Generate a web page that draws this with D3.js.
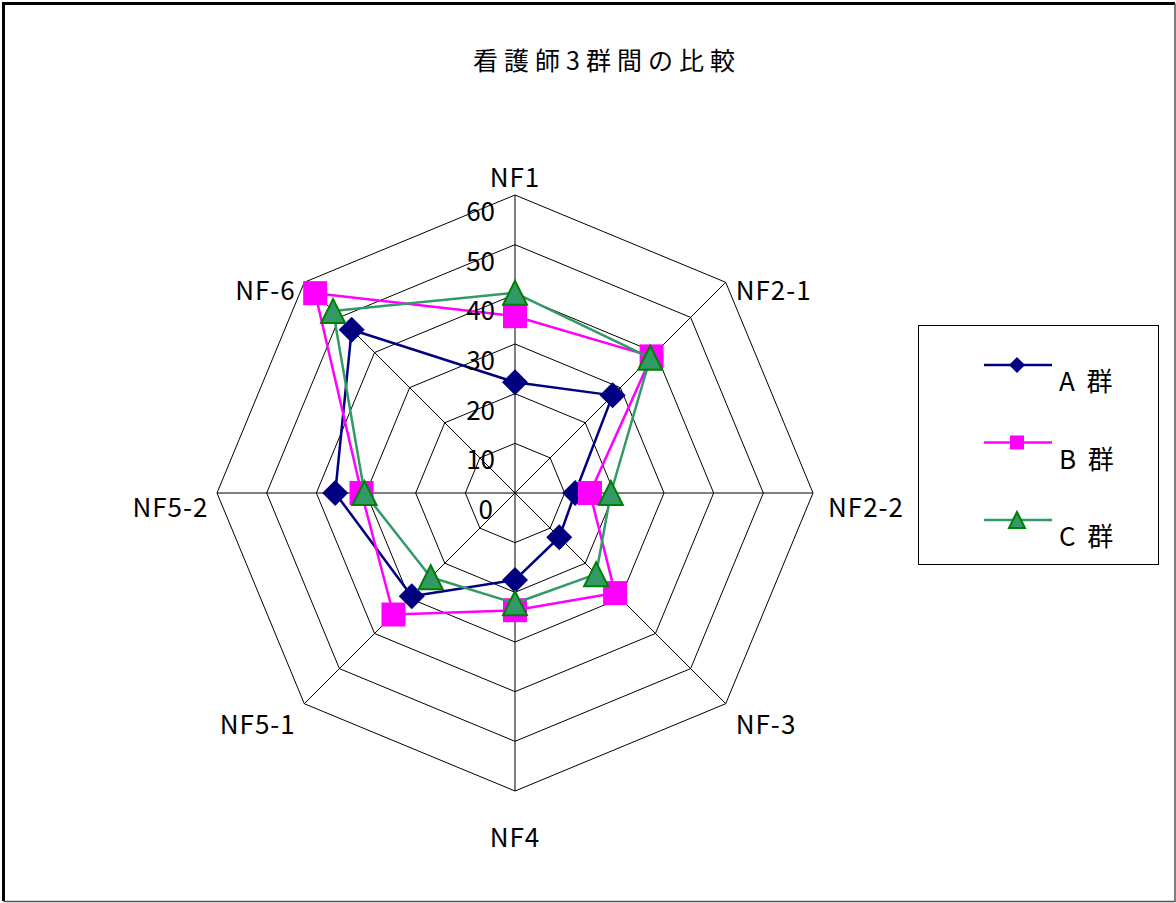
<!DOCTYPE html>
<html>
<head>
<meta charset="utf-8">
<script src="https://cdn.jsdelivr.net/npm/d3@7"></script>
<style>
  html, body { margin: 0; padding: 0; background: #fff; }
  svg { display: block; }
  text { font-family: "Noto Sans CJK JP", "Noto Sans", sans-serif; fill: #000; }
</style>
</head>
<body>
<svg id="chart" width="1176" height="903"></svg>
<script>
// Scores for the three nurse groups on each NF factor
const categories = ["NF1", "NF2-1", "NF2-2", "NF-3", "NF4", "NF5-1", "NF5-2", "NF-6"];
const groupA = [22.3, 27.8, 12.1, 12.6, 17.5, 29.4, 36.2, 46.5];
const groupB = [35.6, 38.9, 15.1, 28.5, 23.6, 34.6, 30.9, 56.9];
const groupC = [40.3, 38.5, 19.3, 23.1, 22.2, 24.0, 30.3, 51.8];
const seriesNames = ["A 群", "B 群", "C 群"];
const tickValues = [0, 10, 20, 30, 40, 50, 60];
const titleText = "看護師3群間の比較";

const svg = d3.select("#chart");
const W = 1176, H = 903;
const cx = 515, cy = 493, R = 298;

// outer frame
svg.append("rect").attr("x", 0).attr("y", 0).attr("width", W).attr("height", H).attr("fill", "#fff");
svg.append("path")
  .attr("d", `M3.5,901 L3.5,3.5 L1175,3.5`)
  .attr("fill", "none").attr("stroke", "#000").attr("stroke-width", 3);
svg.append("path")
  .attr("d", `M1175,3.5 L1175,901.5 L3.5,901.5`)
  .attr("fill", "none").attr("stroke", "#555").attr("stroke-width", 1.5);

// title
svg.append("text")
  .attr("x", 607).attr("y", 70)
  .attr("text-anchor", "middle")
  .attr("font-size", 25)
  .attr("letter-spacing", "6px")
  .text(titleText);

const n = categories.length;
const rScale = d3.scaleLinear().domain([0, 60]).range([0, R]);
const aScale = d3.scaleLinear().domain([0, n]).range([0, 2 * Math.PI]);

const g = svg.append("g").attr("transform", `translate(${cx},${cy})`);

const pointAt = (i, v) => {
  const a = aScale(i), r = rScale(v);
  return [r * Math.sin(a), -r * Math.cos(a)];
};

// grid rings
const ring = d3.lineRadial()
  .angle((d, i) => aScale(i))
  .radius(d => rScale(d))
  .curve(d3.curveLinearClosed);

tickValues.filter(t => t > 0).forEach(t => {
  g.append("path")
    .attr("d", ring(categories.map(() => t)))
    .attr("fill", "none").attr("stroke", "#000").attr("stroke-width", 1);
});

// spokes
categories.forEach((c, i) => {
  const [x, y] = pointAt(i, 60);
  g.append("line").attr("x1", 0).attr("y1", 0).attr("x2", x).attr("y2", y)
    .attr("stroke", "#000").attr("stroke-width", 1);
});

// category labels
const baselineShift = cosA => {
  if (cosA > 0.9) return -8;
  if (cosA > 0.5) return 18;
  if (cosA > -0.5) return 24;
  if (cosA > -0.9) return 30.5;
  return 56;
};
categories.forEach((c, i) => {
  const a = aScale(i);
  const [x, y] = pointAt(i, 60);
  const s = Math.sin(a);
  let anchor = "middle", dx = 0;
  if (s > 0.1) { anchor = "start"; dx = Math.abs(s - 1) < 0.01 ? 15 : 10; }
  else if (s < -0.1) { anchor = "end"; dx = -8.5; }
  g.append("text")
    .attr("x", x + dx).attr("y", y + baselineShift(Math.cos(a)))
    .attr("text-anchor", anchor)
    .attr("font-size", 26)
    .attr("letter-spacing", "1px")
    .text(c);
});

// series
const series = [
  { name: seriesNames[0], values: groupA, line: "#000080", fill: "#000080", stroke: "#000080", shape: "diamond" },
  { name: seriesNames[1], values: groupB, line: "#FF00FF", fill: "#FF00FF", stroke: "#FF00FF", shape: "square" },
  { name: seriesNames[2], values: groupC, line: "#339966", fill: "#339966", stroke: "#008000", shape: "triangle" }
];

function markerPath(shape, size) {
  const h = size / 2;
  if (shape === "diamond") return `M0,${-h}L${h},0L0,${h}L${-h},0Z`;
  if (shape === "square") return `M${-h},${-h}H${h}V${h}H${-h}Z`;
  return `M0,${-h}L${h},${h}L${-h},${h}Z`;
}

const seriesLine = d3.lineRadial()
  .angle((d, i) => aScale(i))
  .radius(d => rScale(d))
  .curve(d3.curveLinearClosed);

series.forEach(s => {
  g.append("path")
    .attr("d", seriesLine(s.values))
    .attr("fill", "none").attr("stroke", s.line).attr("stroke-width", 2.5)
    .attr("stroke-linejoin", "round");
  const size = s.shape === "diamond" ? 26 : 24;
  s.values.forEach((v, i) => {
    const [x, y] = pointAt(i, v);
    g.append("path")
      .attr("transform", `translate(${x},${y})`)
      .attr("d", markerPath(s.shape, size))
      .attr("fill", s.fill)
      .attr("stroke", s.stroke)
      .attr("stroke-width", s.shape === "triangle" ? 2 : 0);
  });
});

// radial tick labels
tickValues.forEach(t => {
  g.append("text")
    .attr("x", t === 0 ? -22 : -20).attr("y", -rScale(t) + 26)
    .attr("text-anchor", "end")
    .attr("font-size", 26)
    .text(t);
});

// legend
const lg = svg.append("g");
lg.append("rect")
  .attr("x", 918.5).attr("y", 325.5).attr("width", 240).attr("height", 239)
  .attr("fill", "#fff").attr("stroke", "#000").attr("stroke-width", 1);
const legendY = d3.scalePoint().domain(seriesNames).range([365, 520]);
series.forEach(s => {
  const y = legendY(s.name);
  lg.append("line").attr("x1", 984).attr("x2", 1052).attr("y1", y).attr("y2", y)
    .attr("stroke", s.line).attr("stroke-width", 2.5);
  lg.append("path")
    .attr("transform", `translate(1017,${y})`)
    .attr("d", markerPath(s.shape, s.shape === "square" ? 14 : 16))
    .attr("fill", s.fill).attr("stroke", s.stroke)
    .attr("stroke-width", s.shape === "triangle" ? 2 : 0);
  lg.append("text")
    .attr("x", 1059).attr("y", y + 26)
    .attr("font-size", 26)
    .attr("xml:space", "preserve")
    .text(s.name.replace(" ", "  "));
});
</script>
</body>
</html>
